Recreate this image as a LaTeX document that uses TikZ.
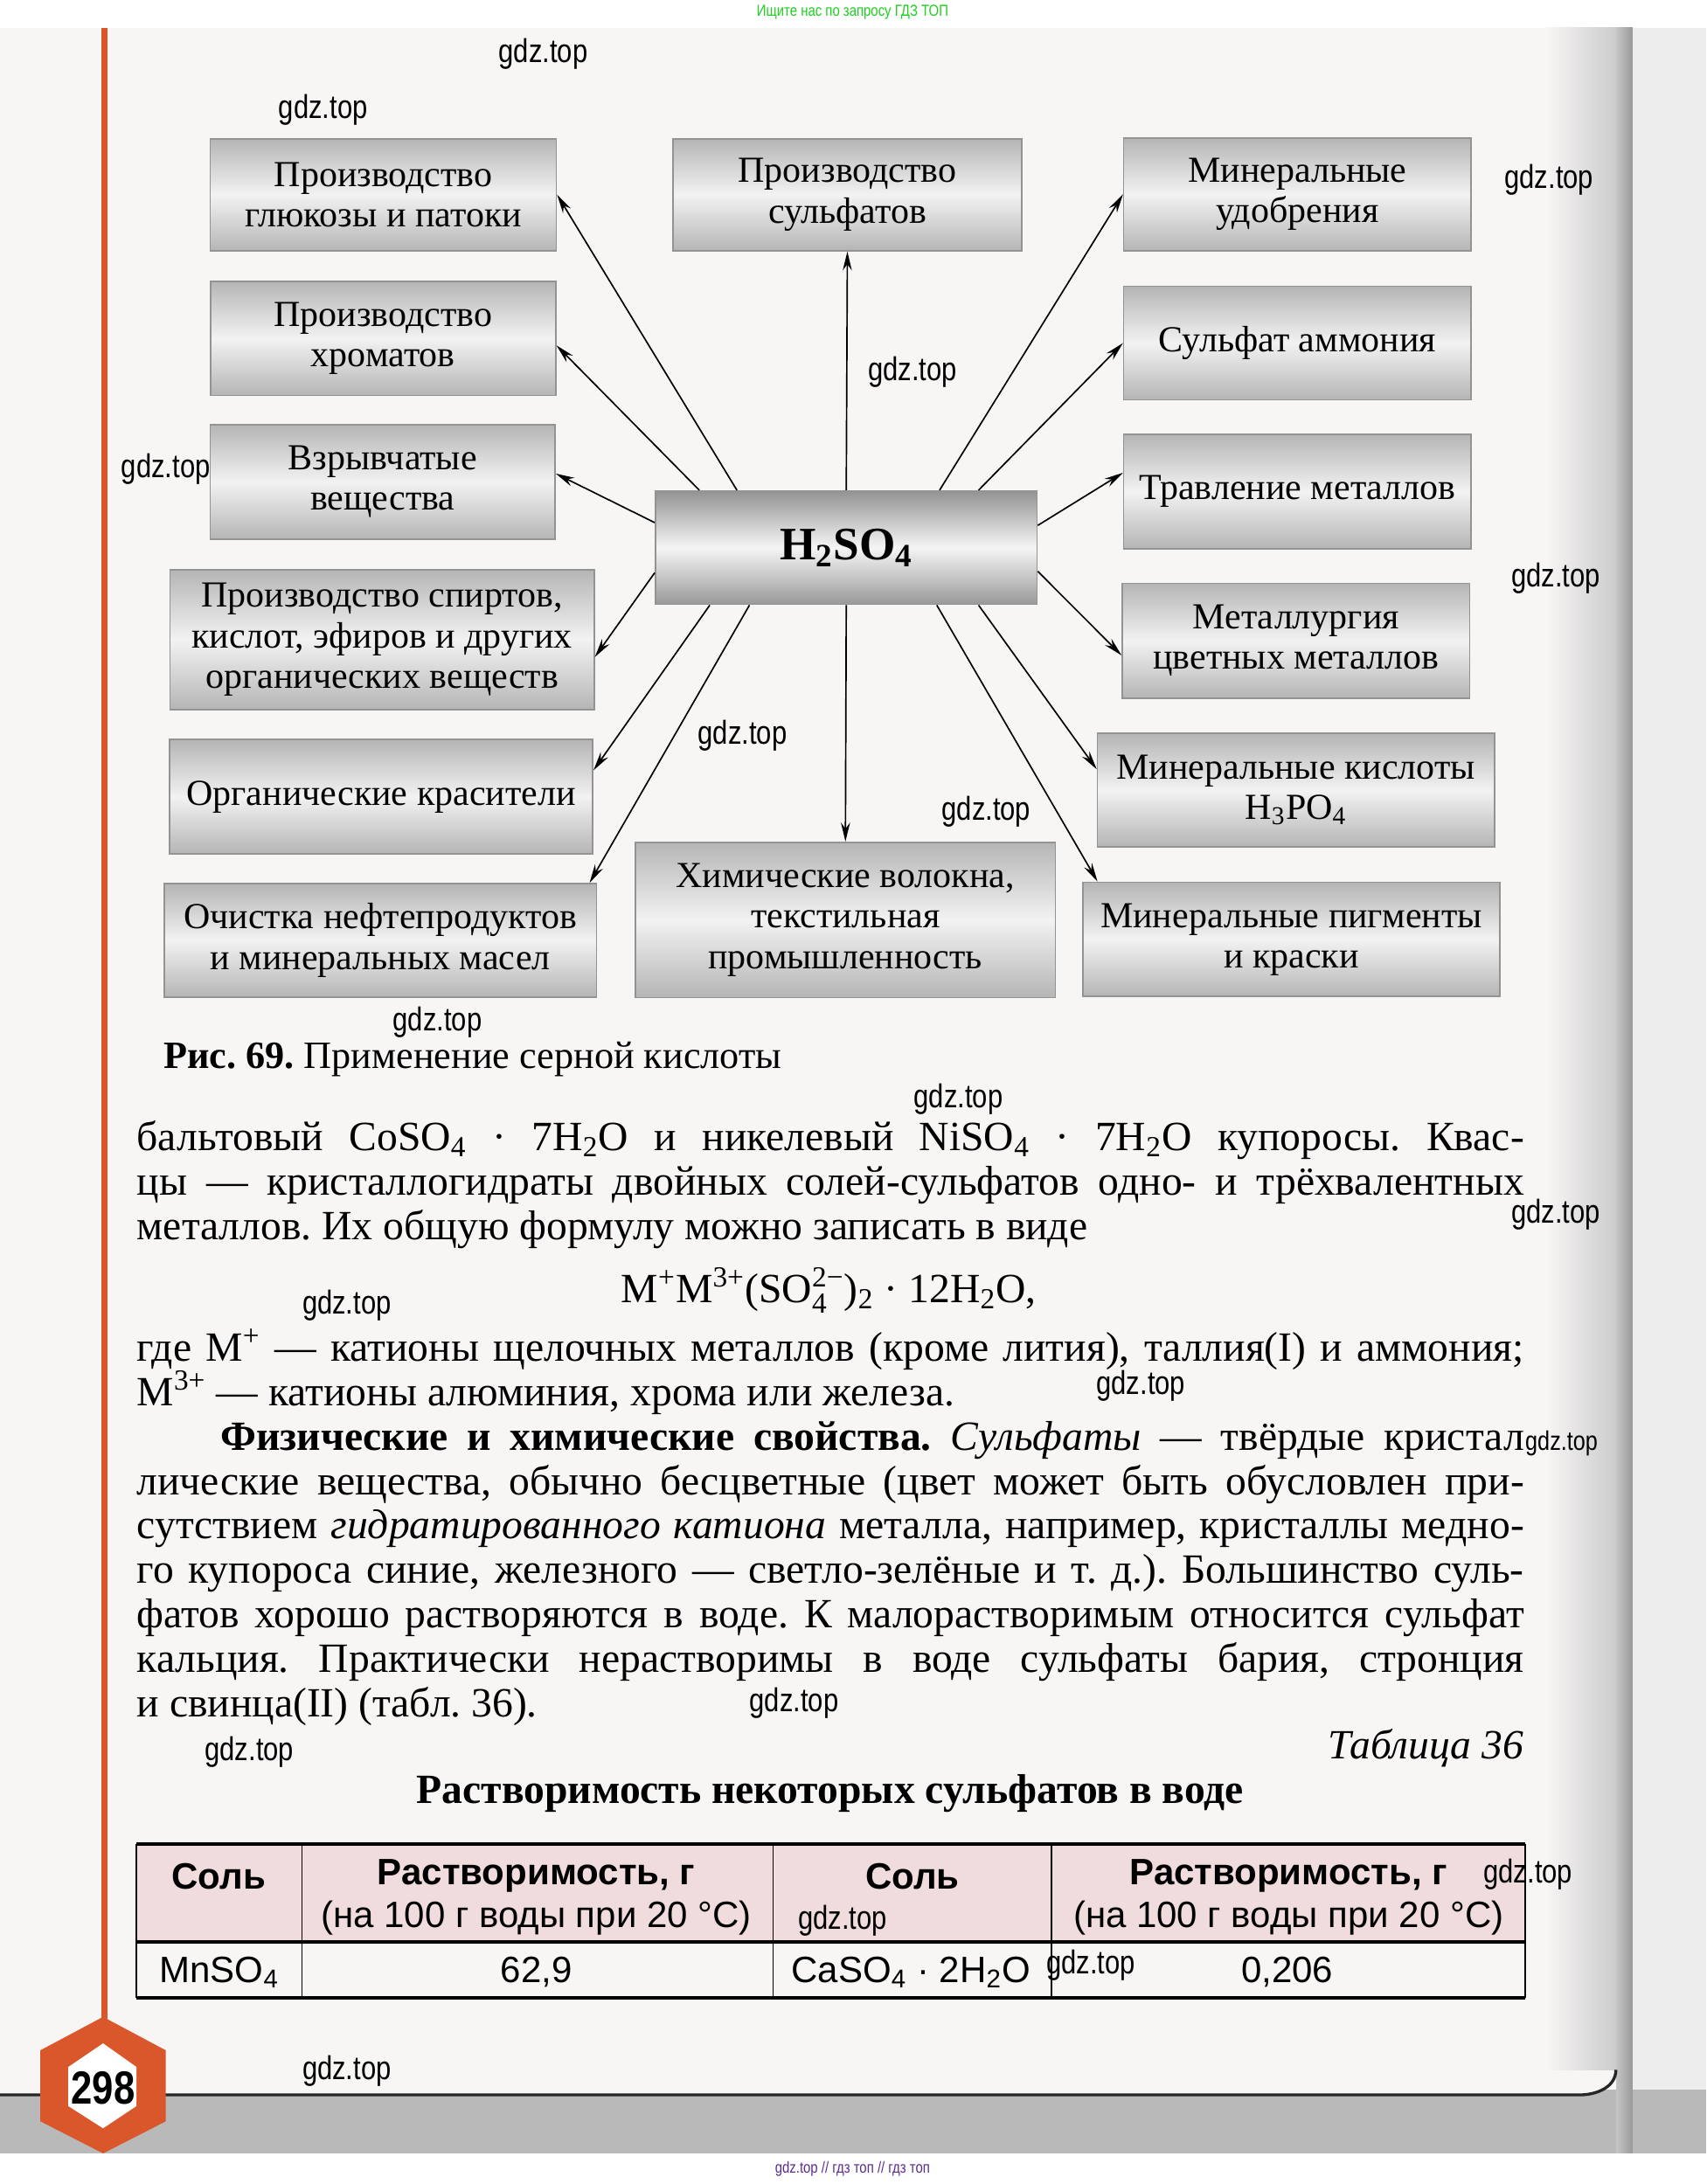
\documentclass[tikz,border=0pt]{standalone}
\usepackage{fontspec}
\usepackage{amsmath}
\usetikzlibrary{arrows.meta}
\setmainfont{Liberation Serif}
\setsansfont{Liberation Sans}
\newfontfamily\narrowsans[FakeStretch=0.82]{Liberation Sans}
\newcommand{\ion}[2]{$_{\text{#1}}^{\text{#2}}$}
\definecolor{pagebg}{HTML}{F8F5F5}
\definecolor{pagerule}{HTML}{D9572B}
\definecolor{tablepink}{HTML}{F0DCDC}
\definecolor{markgreen}{HTML}{1FD01F}
\definecolor{markviolet}{HTML}{5A2D91}
\hbadness=10000
\hyphenpenalty=10000
\frenchspacing

\begin{document}
\begin{tikzpicture}[x=0.02cm, y=-0.02cm,
  appbox/.style={draw=gray!85, line width=0.6pt, top color=gray!58, bottom color=gray!58, middle color=gray!10,
    align=center, inner sep=2pt, font=\fontsize{15}{16.5}\selectfont},
  acidbox/.style={appbox, top color=gray!85, bottom color=gray!80, middle color=gray!8,
    font=\bfseries\fontsize{19}{20}\selectfont},
  arrow/.style={-{Stealth[length=2.7mm, width=1.3mm]}, line width=0.6pt},
  wm/.style={font=\narrowsans\fontsize{13.5}{14}\selectfont, inner sep=0pt},
  body/.style={anchor=base west, text width=19.92cm, align=justify, inner sep=0pt,
    font=\fontsize{17}{18.2}\selectfont},
  cell/.style={font=\sffamily\fontsize{15}{16}\selectfont, inner sep=0pt}
]
  % page and its edges
  \useasboundingbox (0,0) rectangle (1225,1568);
  \fill[white] (0,0) rectangle (1225,1568);
  \fill[gray!14] (1172,20) rectangle (1225,1546);
  \fill[gray!55] (0,1500) rectangle (1225,1546);
  \fill[pagebg] (0,20) -- (1160,20) -- (1160,1486) to[out=-90,in=0] (1134,1504) -- (0,1504) -- cycle;
  \shade[left color=pagebg, right color=gray!40] (1110,20) rectangle (1160,1486);
  \shade[left color=gray!45, right color=gray!80] (1160,20) rectangle (1172,1546);
  \draw[line width=1.2pt, gray!30!black] (0,1504) -- (1134,1504) to[out=0,in=-90] (1160,1486);

  \draw[pagerule, line width=2.4pt] (75,20) -- (75,1450);
  \fill[pagerule] (74,1448) -- (119,1472) -- (119,1523) -- (74,1546) -- (29,1523) -- (29,1472) -- cycle;
  \fill[white] (74,1467) -- (98,1484) -- (98,1512) -- (74,1528) -- (49,1512) -- (49,1484) -- cycle;
  \node[font=\narrowsans\bfseries\fontsize{19}{19}\selectfont] (pagenum) at (74,1499) {298};

  \node[font=\narrowsans\fontsize{6.5}{7}\selectfont, text=markgreen] (topnote) at (612,9) {Ищите нас по запросу ГДЗ ТОП};
  \node[font=\narrowsans\fontsize{6.5}{7}\selectfont, text=markviolet] (bottomnote) at (612,1557) {gdz.top // гдз топ // гдз топ};

  % diagram
  \node[acidbox, minimum width=5.48cm, minimum height=1.63cm] (acid) at (607.5,393.2) {H\textsubscript{2}SO\textsubscript{4}};

  \node[appbox, minimum width=4.97cm, minimum height=1.61cm] (glucose) at (275.2,139.8) {Производство\\глюкозы и патоки};
  \node[appbox, minimum width=4.96cm, minimum height=1.64cm] (chromate) at (275,243) {Производство\\хроматов};
  \node[appbox, minimum width=4.95cm, minimum height=1.64cm] (explosive) at (274.7,346) {Взрывчатые\\вещества};
  \node[appbox, minimum width=6.09cm, minimum height=2.01cm] (alcohol) at (274.3,459.2) {Производство спиртов,\\кислот, эфиров и других\\органических веществ};
  \node[appbox, minimum width=6.08cm, minimum height=1.64cm] (dye) at (273.6,572) {Органические красители};
  \node[appbox, minimum width=6.21cm, minimum height=1.63cm] (oil) at (273,675.1) {Очистка нефтепродуктов\\и минеральных масел};

  \node[appbox, minimum width=5.0cm, minimum height=1.61cm] (sulfate) at (608.3,139.8) {Производство\\сульфатов};
  \node[appbox, minimum width=6.03cm, minimum height=2.23cm] (fibre) at (606.9,660.4) {Химические волокна,\\текстильная\\промышленность};

  \node[appbox, minimum width=4.99cm, minimum height=1.62cm] (fertilizer) at (931.4,139.5) {Минеральные\\удобрения};
  \node[appbox, minimum width=4.99cm, minimum height=1.63cm] (ammonium) at (931.4,246.3) {Сульфат аммония};
  \node[appbox, minimum width=4.99cm, minimum height=1.64cm] (etching) at (931.4,352.9) {Травление металлов};
  \node[appbox, minimum width=4.99cm, minimum height=1.65cm] (metallurgy) at (930.4,460) {Металлургия\\цветных металлов};
  \node[appbox, minimum width=5.7cm, minimum height=1.63cm] (mineralacid) at (930.3,567.3) {Минеральные кислоты\\H\textsubscript{3}PO\textsubscript{4}};
  \node[appbox, minimum width=5.99cm, minimum height=1.64cm] (pigment) at (927.1,674.4) {Минеральные пигменты\\и краски};

  \draw[arrow] ([xshift=-1.57cm]acid.north) -- (glucose.east);
  \draw[arrow] ([xshift=-2.11cm]acid.north) -- ([yshift=-0.1cm]chromate.east);
  \draw[arrow] ([yshift=0.36cm]acid.west) -- ([yshift=0.12cm]explosive.east);
  \draw[arrow] ([yshift=-0.36cm]acid.west) -- ([yshift=-0.25cm]alcohol.east);
  \draw[arrow] ([xshift=-1.96cm]acid.south) -- ([yshift=0.38cm]dye.east);
  \draw[arrow] ([xshift=-1.39cm]acid.south) -- ([xshift=-0.11cm]oil.north east);
  \draw[arrow] (acid.north) -- (sulfate.south);
  \draw[arrow] (acid.south) -- (fibre.north);
  \draw[arrow] ([xshift=1.34cm]acid.north) -- (fertilizer.west);
  \draw[arrow] ([xshift=1.9cm]acid.north) -- (ammonium.west);
  \draw[arrow] ([yshift=0.32cm]acid.east) -- ([yshift=0.27cm]etching.west);
  \draw[arrow] ([yshift=-0.34cm]acid.east) -- ([yshift=-0.21cm]metallurgy.west);
  \draw[arrow] ([xshift=1.9cm]acid.south) -- ([yshift=0.3cm]mineralacid.west);
  \draw[arrow] ([xshift=1.3cm]acid.south) -- ([xshift=0.22cm]pigment.north west);

  % caption and text
  \node[anchor=base west, inner sep=0pt, font=\fontsize{15.8}{17}\selectfont] (caption) at (117,767)
    {\textbf{Рис. 69.} Применение серной кислоты};
  \node[body] (para1) at (98,826)
    {бальтовый CoSO\textsubscript{4} · 7H\textsubscript{2}O и никелевый NiSO\textsubscript{4} · 7H\textsubscript{2}O купоросы. Квас-\linebreak
     цы — кристаллогидраты двойных солей-сульфатов одно- и трёхвалентных\linebreak
     металлов. Их общую формулу можно записать в виде};
  \node[anchor=base, inner sep=0pt, font=\fontsize{17}{18}\selectfont] (formula) at (595,935)
    {M\textsuperscript{+}M\textsuperscript{3+}(SO\ion{4}{2−})\textsubscript{2} · 12H\textsubscript{2}O,};
  \node[body] (para2) at (98,977)
    {где M\textsuperscript{+} — катионы щелочных металлов (кроме лития), таллия(I) и аммония;\linebreak
     M\textsuperscript{3+} — катионы алюминия, хрома или железа.\par
     \hspace*{1.2cm}\textbf{Физические и химические свойства.} \textit{Сульфаты} — твёрдые кристал\linebreak
     лические вещества, обычно бесцветные (цвет может быть обусловлен при-\linebreak
     сутствием \textit{гидратированного катиона} металла, например, кристаллы медно-\linebreak
     го купороса синие, железного — светло-зелёные и т.~д.). Большинство суль-\linebreak
     фатов хорошо растворяются в воде. К малорастворимым относится сульфат\linebreak
     кальция. Практически нерастворимы в воде сульфаты бария, стронция\linebreak
     и свинца(II) (табл.~36).};
  \node[anchor=base east, inner sep=0pt, font=\itshape\fontsize{17}{18}\selectfont] (tablenum) at (1094,1263) {Таблица 36};
  \node[anchor=base, inner sep=0pt, font=\bfseries\fontsize{17}{18}\selectfont] (tabletitle) at (596,1295)
    {Растворимость некоторых сульфатов в воде};

  % table
  \fill[tablepink] (98,1324) rectangle (1095,1394);
  \draw[line width=0.6pt] (98,1324) -- (98,1434.5) (216.7,1324) -- (216.7,1434.5)
    (555,1324) -- (555,1434.5) (754.8,1324) -- (754.8,1434.5) (1095,1324) -- (1095,1434.5);
  \draw[line width=1.4pt] (98,1324) -- (1095,1324) (98,1394) -- (1095,1394) (98,1434.5) -- (1095,1434.5);
  \node[cell, font=\sffamily\bfseries\fontsize{15}{16}\selectfont] (salt1) at (157,1347) {Соль};
  \node[cell, font=\sffamily\bfseries\fontsize{15}{16}\selectfont] (solhead1) at (385,1347) {Растворимость, г};
  \node[cell] (solnote1) at (385,1377) {(на 100 г воды при 20 °С)};
  \node[cell, font=\sffamily\bfseries\fontsize{15}{16}\selectfont] (salt2) at (655,1347) {Соль};
  \node[cell, font=\sffamily\bfseries\fontsize{15}{16}\selectfont] (solhead2) at (925,1347) {Растворимость, г};
  \node[cell] (solnote2) at (925,1377) {(на 100 г воды при 20 °С)};
  \node[cell] (mnsalt) at (157.5,1416) {MnSO\textsubscript{4}};
  \node[cell] (mnvalue) at (385,1416) {62,9};
  \node[cell] (casalt) at (654,1416) {CaSO\textsubscript{4} · 2H\textsubscript{2}O};
  \node[cell] (cavalue) at (924,1416) {0,206};

  % watermarks
  \foreach \x/\y [count=\i] in {390/39, 232/79, 1112/129, 655/267, 119/337, 1117/415, 533/528,
      708/583, 314/734, 688/789, 1117/872, 249/937, 819/995, 570/1223, 179/1258,
      1097/1346, 605/1379, 783/1411, 249/1487}
    \node[wm] (wm\i) at (\x,\y) {gdz.top};
  \node[wm, font=\narrowsans\fontsize{11}{12}\selectfont] (wmsmall) at (1121,1036) {gdz.top};
\end{tikzpicture}
\end{document}
